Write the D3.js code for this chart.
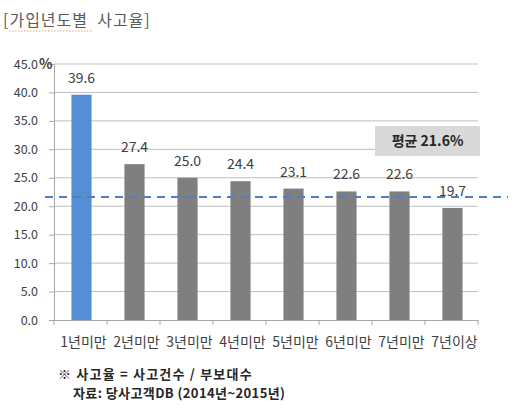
<!DOCTYPE html>
<html>
<head>
<meta charset="utf-8">
<script src="https://d3js.org/d3.v7.min.js"></script>
<style>
  body { margin: 0; background: #fff; }
  text { font-family: "Noto Sans CJK KR", "Noto Sans", sans-serif; }
</style>
</head>
<body>
<div id="chart"></div>
<script>
// data
const categories = ["1년미만", "2년미만", "3년미만", "4년미만", "5년미만", "6년미만", "7년미만", "7년이상"];
const rates = [39.6, 27.4, 25.0, 24.4, 23.1, 22.6, 22.6, 19.7];
const average = 21.6;
const yTicks = [0, 5, 10, 15, 20, 25, 30, 35, 40, 45];

const width = 520, height = 408;
const margin = { top: 64, right: 42, bottom: 88, left: 54 };
const plotW = width - margin.left - margin.right,
  plotH = height - margin.top - margin.bottom;

const svg = d3.select("#chart")
  .append("svg")
  .attr("width", width)
  .attr("height", height);

// title
svg.append("text")
  .attr("x", 3)
  .attr("y", 26)
  .attr("xml:space", "preserve")
  .text("[가입년도별  사고율]")
  .style("fill", "#595959")
  .style("font-size", "16px")
  .style("letter-spacing", "1px")
  .style("white-space", "pre");
// spell-check squiggle under the first word
svg.append("line")
  .attr("x1", 9).attr("x2", 92)
  .attr("y1", 31).attr("y2", 31)
  .attr("stroke", "#e8a060")
  .attr("stroke-width", 1)
  .attr("stroke-dasharray", "1.5,1.5");

const g = svg.append("g")
  .attr("transform", `translate(${margin.left},${margin.top})`);

const x = d3.scaleBand()
  .domain(categories)
  .range([0, plotW]);

const y = d3.scaleLinear()
  .domain([0, 45])
  .range([plotH, 0]);

// gridlines
g.append("g")
  .selectAll("line")
  .data(yTicks.filter(d => d > 0))
  .join("line")
  .attr("x1", 0).attr("x2", plotW)
  .attr("y1", d => y(d)).attr("y2", d => y(d))
  .attr("stroke", "#bfbfbf")
  .attr("stroke-width", 1);

// y axis
const yAxis = g.append("g")
  .call(d3.axisLeft(y).tickValues(yTicks).tickFormat(d3.format(".1f")).tickSize(5).tickPadding(11));
yAxis.select(".domain").attr("stroke", "#a6a6a6");
yAxis.selectAll(".tick line").attr("stroke", "#a6a6a6");
yAxis.selectAll(".tick text")
  .style("font-size", "12.5px")
  .style("fill", "#404040");

g.append("text")
  .attr("x", -15)
  .attr("y", y(45) + 5)
  .text("%")
  .style("font-size", "14px")
  .style("font-weight", "bold")
  .style("fill", "#404040");

// bars
const barW = x.bandwidth() * 0.38;
g.append("g")
  .selectAll("rect")
  .data(rates)
  .join("rect")
  .attr("x", (d, i) => x(categories[i]) + x.bandwidth() / 2 - barW / 2 + 1)
  .attr("y", d => y(d))
  .attr("width", barW)
  .attr("height", d => plotH - y(d))
  .attr("fill", (d, i) => i === 0 ? "#558ed5" : "#7f7f7f");

// value labels
g.append("g")
  .selectAll("text")
  .data(rates)
  .join("text")
  .attr("x", (d, i) => x(categories[i]) + x.bandwidth() / 2 + 1)
  .attr("y", d => y(d) - 12)
  .attr("text-anchor", "middle")
  .text(d => d.toFixed(1))
  .style("font-size", "14px")
  .style("fill", "#404040");

// x axis
const xAxis = g.append("g")
  .attr("transform", `translate(0,${plotH})`)
  .call(d3.axisBottom(x).tickSize(0).tickPadding(17));
xAxis.select(".domain").attr("stroke", "#a6a6a6");
xAxis.selectAll(".tick text")
  .attr("dx", 3)
  .style("font-size", "14px")
  .style("fill", "#404040");
// boundary ticks between categories
xAxis.append("g")
  .selectAll("line")
  .data(d3.range(categories.length + 1))
  .join("line")
  .attr("x1", i => i * x.step()).attr("x2", i => i * x.step())
  .attr("y1", 0).attr("y2", 5)
  .attr("stroke", "#a6a6a6");

// average line
g.append("line")
  .attr("x1", -9).attr("x2", plotW + 30)
  .attr("y1", y(average)).attr("y2", y(average))
  .attr("stroke", "#4f7fbf")
  .attr("stroke-width", 2)
  .attr("stroke-dasharray", "8,6");

// average label box
g.append("rect")
  .attr("x", 321)
  .attr("y", 62)
  .attr("width", 105)
  .attr("height", 30)
  .attr("fill", "#d9d9d9");
g.append("text")
  .attr("x", 321 + 52.5)
  .attr("y", 82)
  .attr("text-anchor", "middle")
  .text(`평균 ${average}%`)
  .style("font-size", "14px")
  .style("font-weight", "bold")
  .style("fill", "#262626");

// footnote
svg.append("text")
  .attr("x", 58)
  .attr("y", 379)
  .text("※ 사고율 = 사고건수 / 부보대수")
  .style("font-size", "13px")
  .style("font-weight", "bold")
  .style("letter-spacing", "1.2px")
  .style("fill", "#262626");
svg.append("text")
  .attr("x", 73)
  .attr("y", 398)
  .text("자료: 당사고객DB (2014년~2015년)")
  .style("font-size", "13px")
  .style("font-weight", "bold")
  .style("letter-spacing", "0.4px")
  .style("fill", "#262626");
</script>
</body>
</html>
